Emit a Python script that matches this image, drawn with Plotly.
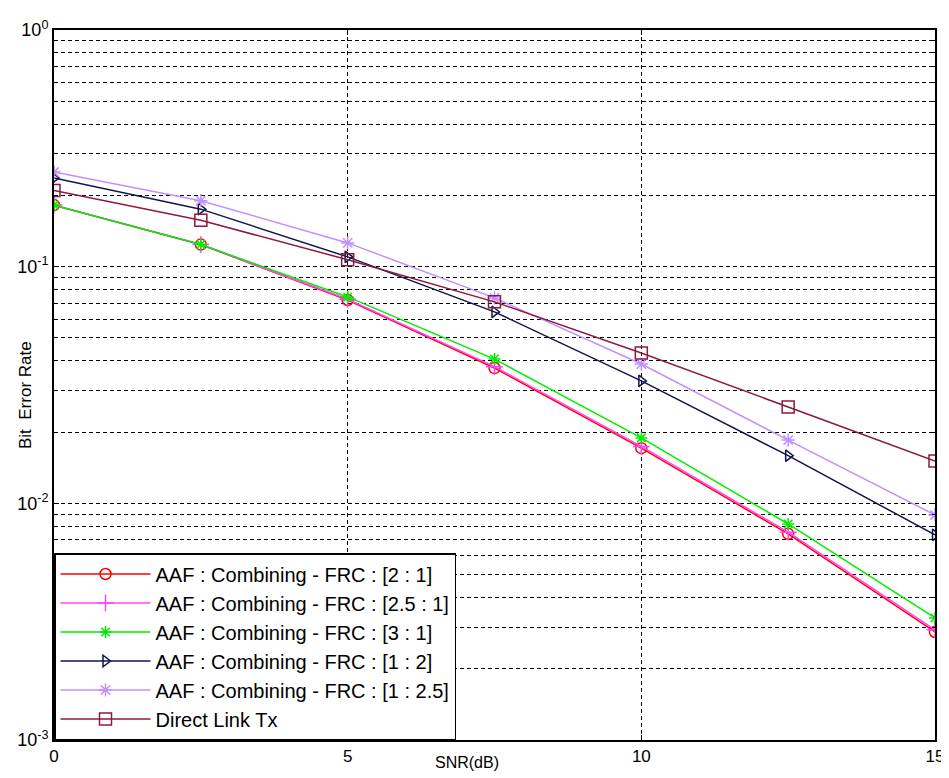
import plotly.graph_objects as go

snr = [0, 2.5, 5, 7.5, 10, 12.5, 15]
ber_2_1 = [0.182, 0.124, 0.0723, 0.0373, 0.0171, 0.00743, 0.00286]
ber_25_1 = [0.182, 0.124, 0.0728, 0.0378, 0.0174, 0.00755, 0.00292]
ber_3_1 = [0.182, 0.124, 0.0745, 0.0407, 0.0189, 0.00818, 0.00328]
ber_1_2 = [0.237, 0.175, 0.110, 0.0644, 0.0329, 0.0159, 0.00736]
ber_1_25 = [0.251, 0.190, 0.126, 0.0738, 0.0388, 0.0185, 0.00893]
ber_direct = [0.210, 0.157, 0.107, 0.071, 0.0432, 0.0255, 0.0151]

names = ["AAF : Combining - FRC : [2 : 1]",
         "AAF : Combining - FRC : [2.5 : 1]",
         "AAF : Combining - FRC : [3 : 1]",
         "AAF : Combining - FRC : [1 : 2]",
         "AAF : Combining - FRC : [1 : 2.5]",
         "Direct Link Tx"]
series = [ber_2_1, ber_25_1, ber_3_1, ber_1_2, ber_1_25, ber_direct]
colors = ["#ff0000", "#ff44ff", "#00ee00", "#10154f", "#c090ff", "#8c1a3c"]
symbols = ["circle-open", "cross-thin-open", "asterisk-open", "triangle-right-open", "asterisk-open", "square-open"]
sizes = [11, 12, 10, 10, 11, 12]

ytick_vals = [1e-3, 1e-2, 1e-1, 1]
ytick_text = ["10<sup>-3</sup>", "10<sup>-2</sup>", "10<sup>-1</sup>", "10<sup>0</sup>"]
xtick_vals = [0, 5, 10, 15]

FONT = "Liberation Sans, Arial"

fig = go.Figure()
for i, (nm, ys) in enumerate(zip(names, series)):
    fig.add_trace(go.Scatter(
        x=snr, y=ys, name=nm, mode="lines+markers", legendgroup=str(i),
        line=dict(color=colors[i], width=1.5),
        marker=dict(symbol=symbols[i], size=sizes[i], color=colors[i],
                    line=dict(color=colors[i], width=1.5)),
    ))

grid = dict(gridcolor="black", griddash="4px,3px", gridwidth=1)
fig.update_xaxes(range=[0, 15], tickvals=xtick_vals, showgrid=True, **grid,
                 showline=True, linecolor="black", linewidth=2, mirror="ticks",
                 ticks="inside", ticklen=5, tickcolor="black", zeroline=False,
                 automargin=False,
                 tickfont=dict(family=FONT, size=17, color="black"))
fig.update_yaxes(type="log", range=[-3, 0], tickvals=ytick_vals, ticktext=ytick_text,
                 showgrid=True, **grid,
                 minor=dict(dtick="D1", showgrid=True, gridcolor="black", griddash="4px,3px",
                            gridwidth=1, ticks="inside", ticklen=3, tickcolor="black"),
                 showline=True, linecolor="black", linewidth=2, mirror="ticks",
                 ticks="inside", ticklen=5, tickcolor="black", zeroline=False,
                 automargin=False,
                 tickfont=dict(family=FONT, size=18, color="black"))

fig.add_annotation(text="SNR(dB)", x=0.5, y=0, xref="paper", yref="paper",
                   xanchor="center", yanchor="top", yshift=-12, xshift=-28, showarrow=False,
                   font=dict(family=FONT, size=16, color="black"))
fig.add_annotation(text="Bit  Error Rate", x=0, y=0.5, xref="paper", yref="paper",
                   xanchor="center", yanchor="middle", xshift=-29, yshift=-10, textangle=-90,
                   showarrow=False,
                   font=dict(family=FONT, size=17, color="black"))

# page body has an 8px margin; size the figure so the plot area lands where the reference has it
fig.update_layout(
    width=941, height=770,
    margin=dict(l=46, r=14, t=22, b=38),
    plot_bgcolor="white", paper_bgcolor="white",
    font=dict(family=FONT, size=14, color="black"),
    legend=dict(x=0, y=0, xanchor="left", yanchor="bottom",
                bgcolor="white", bordercolor="black", borderwidth=1.5,
                traceorder="grouped", tracegroupgap=0, itemwidth=90,
                font=dict(family=FONT, size=20, color="black")),
)

fig.write_html("out.html")
